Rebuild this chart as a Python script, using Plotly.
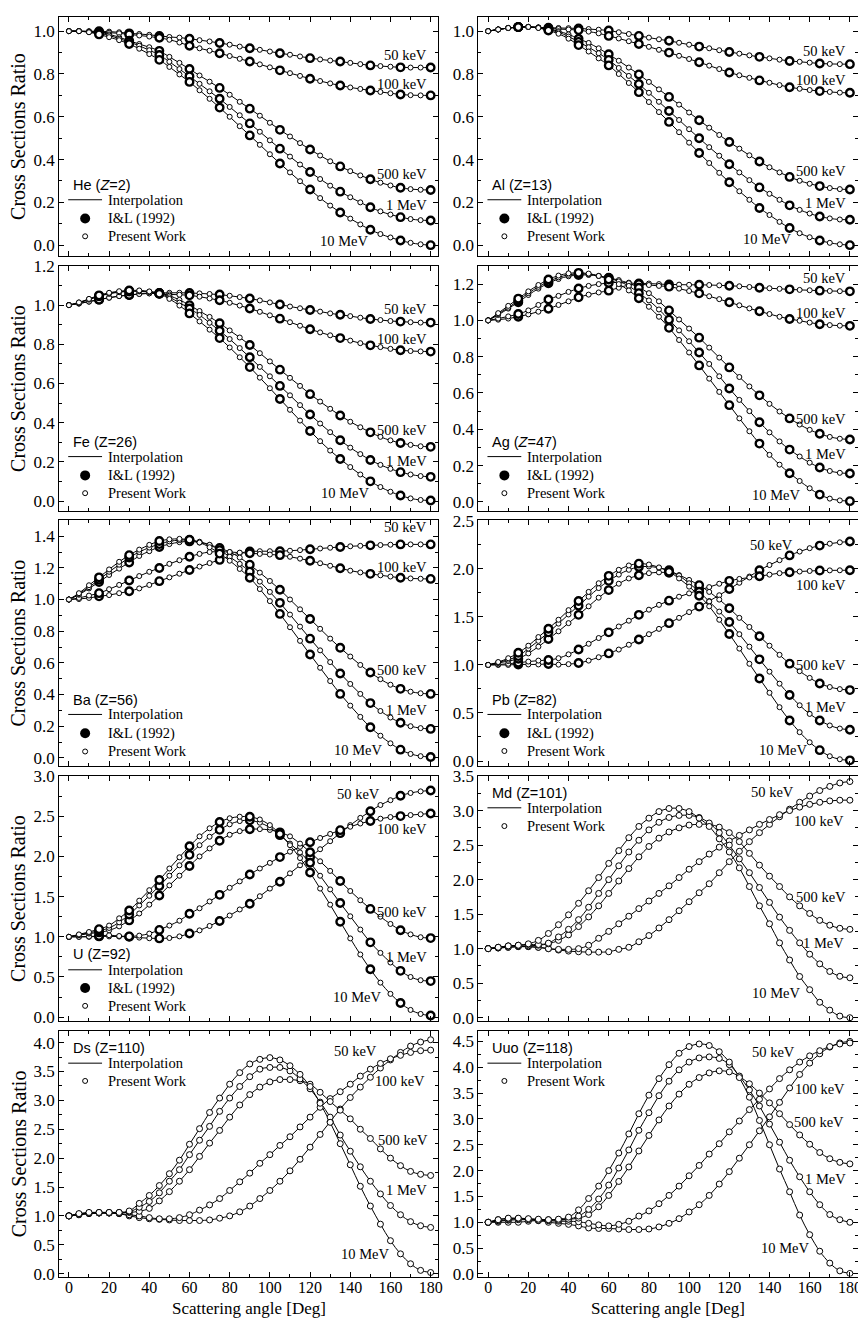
import plotly.graph_objects as go

# The page body has an 8px default margin, so the figure is made 8px smaller
# and every reference pixel position is shifted by that margin.
OFF = 8
WF, HF = 866 - OFF, 1328 - OFF
SERIF = "Liberation Serif, Times New Roman, serif"
SANS = "Liberation Sans, Arial, sans-serif"

# ---------------- data ----------------
ANGLES = list(range(0, 181, 5))
IL_ANGLES = list(range(15, 181, 15))
ENERGIES = ["50 keV", "100 keV", "500 keV", "1 MeV", "10 MeV"]
X_TICKS = list(range(0, 181, 20))

HE_50KEV = [1.0, 1.0, 1.0, 1.0, 0.998, 0.995, 0.99, 0.987, 0.983, 0.978, 0.973, 0.97, 0.965, 0.958, 0.952, 0.945, 0.937, 0.928, 0.92, 0.913, 0.905, 0.897, 0.89, 0.882, 0.874, 0.868, 0.863, 0.858, 0.852, 0.846, 0.84, 0.837, 0.834, 0.831, 0.83, 0.83, 0.83]
HE_100KEV = [1.0, 1.0, 0.998, 0.995, 0.993, 0.99, 0.985, 0.98, 0.975, 0.969, 0.96, 0.947, 0.932, 0.92, 0.909, 0.897, 0.884, 0.871, 0.858, 0.845, 0.831, 0.817, 0.804, 0.791, 0.778, 0.767, 0.756, 0.746, 0.737, 0.73, 0.723, 0.716, 0.71, 0.704, 0.701, 0.7, 0.7]
HE_500KEV = [1.0, 1.0, 0.998, 0.995, 0.985, 0.972, 0.955, 0.94, 0.925, 0.908, 0.88, 0.852, 0.823, 0.793, 0.764, 0.735, 0.703, 0.67, 0.638, 0.605, 0.572, 0.539, 0.508, 0.477, 0.447, 0.419, 0.392, 0.368, 0.346, 0.326, 0.308, 0.292, 0.279, 0.268, 0.262, 0.259, 0.258]
HE_1MEV = [1.0, 1.0, 0.996, 0.99, 0.98, 0.965, 0.95, 0.932, 0.911, 0.889, 0.857, 0.823, 0.789, 0.754, 0.719, 0.684, 0.646, 0.607, 0.569, 0.53, 0.49, 0.451, 0.414, 0.377, 0.342, 0.309, 0.278, 0.25, 0.224, 0.2, 0.177, 0.158, 0.143, 0.131, 0.122, 0.117, 0.115]
HE_10MEV = [1.0, 1.0, 0.995, 0.985, 0.972, 0.958, 0.94, 0.918, 0.893, 0.866, 0.833, 0.798, 0.763, 0.724, 0.684, 0.643, 0.6, 0.556, 0.513, 0.469, 0.425, 0.382, 0.34, 0.299, 0.26, 0.22, 0.185, 0.153, 0.124, 0.097, 0.072, 0.052, 0.036, 0.022, 0.011, 0.004, 0.0]

AL_50KEV = [1.0, 1.008, 1.015, 1.019, 1.02, 1.018, 1.016, 1.015, 1.014, 1.013, 1.01, 1.007, 1.003, 0.995, 0.987, 0.978, 0.97, 0.962, 0.955, 0.946, 0.937, 0.928, 0.92, 0.911, 0.903, 0.895, 0.887, 0.88, 0.873, 0.867, 0.861, 0.857, 0.853, 0.849, 0.847, 0.846, 0.846]
AL_100KEV = [1.0, 1.008, 1.015, 1.019, 1.02, 1.017, 1.013, 1.01, 1.008, 1.005, 0.998, 0.99, 0.978, 0.966, 0.953, 0.94, 0.927, 0.913, 0.9, 0.885, 0.87, 0.855, 0.839, 0.823, 0.807, 0.794, 0.782, 0.77, 0.759, 0.748, 0.738, 0.731, 0.725, 0.72, 0.716, 0.713, 0.712]
AL_500KEV = [1.0, 1.008, 1.015, 1.019, 1.02, 1.017, 1.01, 1.0, 0.985, 0.965, 0.945, 0.92, 0.892, 0.862, 0.83, 0.798, 0.763, 0.728, 0.693, 0.657, 0.62, 0.584, 0.549, 0.515, 0.482, 0.451, 0.42, 0.391, 0.364, 0.34, 0.319, 0.301, 0.287, 0.276, 0.267, 0.262, 0.26]
AL_1MEV = [1.0, 1.008, 1.015, 1.019, 1.02, 1.016, 1.007, 0.995, 0.975, 0.95, 0.925, 0.897, 0.866, 0.828, 0.791, 0.753, 0.712, 0.67, 0.627, 0.585, 0.542, 0.5, 0.458, 0.418, 0.378, 0.34, 0.304, 0.27, 0.24, 0.212, 0.186, 0.165, 0.148, 0.134, 0.125, 0.12, 0.119]
AL_10MEV = [1.0, 1.008, 1.015, 1.019, 1.02, 1.015, 1.003, 0.988, 0.965, 0.935, 0.905, 0.873, 0.84, 0.8, 0.758, 0.715, 0.669, 0.622, 0.576, 0.528, 0.479, 0.431, 0.384, 0.338, 0.294, 0.252, 0.212, 0.174, 0.141, 0.109, 0.08, 0.056, 0.037, 0.022, 0.011, 0.004, 0.0]

FE_50KEV = [1.0, 1.008, 1.018, 1.028, 1.038, 1.046, 1.052, 1.057, 1.06, 1.062, 1.063, 1.063, 1.062, 1.06, 1.057, 1.054, 1.048, 1.041, 1.034, 1.024, 1.014, 1.003, 0.993, 0.984, 0.975, 0.967, 0.958, 0.951, 0.944, 0.936, 0.929, 0.924, 0.919, 0.916, 0.913, 0.911, 0.911]
FE_100KEV = [1.0, 1.008, 1.018, 1.028, 1.038, 1.046, 1.052, 1.057, 1.06, 1.058, 1.055, 1.053, 1.05, 1.043, 1.034, 1.025, 1.012, 0.998, 0.983, 0.966, 0.948, 0.931, 0.913, 0.895, 0.877, 0.861, 0.846, 0.832, 0.819, 0.806, 0.795, 0.786, 0.777, 0.77, 0.766, 0.764, 0.763]
FE_500KEV = [1.0, 1.012, 1.028, 1.045, 1.058, 1.066, 1.07, 1.07, 1.067, 1.062, 1.048, 1.027, 1.0, 0.97, 0.94, 0.908, 0.871, 0.835, 0.797, 0.755, 0.713, 0.671, 0.629, 0.588, 0.546, 0.508, 0.471, 0.437, 0.405, 0.377, 0.351, 0.328, 0.31, 0.297, 0.287, 0.28, 0.277]
FE_1MEV = [1.0, 1.013, 1.03, 1.047, 1.06, 1.068, 1.072, 1.072, 1.068, 1.06, 1.04, 1.013, 0.983, 0.95, 0.91, 0.869, 0.827, 0.781, 0.734, 0.685, 0.637, 0.588, 0.54, 0.49, 0.442, 0.396, 0.352, 0.311, 0.273, 0.24, 0.21, 0.185, 0.165, 0.148, 0.136, 0.128, 0.124]
FE_10MEV = [1.0, 1.014, 1.032, 1.05, 1.063, 1.071, 1.075, 1.075, 1.07, 1.058, 1.032, 0.998, 0.958, 0.917, 0.875, 0.832, 0.784, 0.734, 0.684, 0.63, 0.576, 0.521, 0.466, 0.411, 0.358, 0.306, 0.258, 0.215, 0.174, 0.136, 0.101, 0.072, 0.048, 0.029, 0.014, 0.006, 0.003]

AG_50KEV = [1.0, 1.004, 1.01, 1.02, 1.033, 1.048, 1.064, 1.085, 1.105, 1.127, 1.142, 1.154, 1.164, 1.18, 1.195, 1.203, 1.203, 1.2, 1.198, 1.197, 1.196, 1.196, 1.195, 1.193, 1.191, 1.188, 1.184, 1.18, 1.177, 1.174, 1.171, 1.168, 1.166, 1.164, 1.162, 1.161, 1.16]
AG_100KEV = [1.0, 1.01, 1.022, 1.035, 1.055, 1.085, 1.115, 1.135, 1.157, 1.176, 1.19, 1.2, 1.206, 1.21, 1.208, 1.2, 1.195, 1.19, 1.186, 1.175, 1.162, 1.149, 1.133, 1.117, 1.1, 1.083, 1.066, 1.05, 1.035, 1.02, 1.008, 0.998, 0.988, 0.979, 0.974, 0.971, 0.97]
AG_500KEV = [1.0, 1.03, 1.065, 1.1, 1.14, 1.175, 1.205, 1.228, 1.243, 1.25, 1.25, 1.245, 1.235, 1.222, 1.205, 1.18, 1.15, 1.105, 1.055, 1.005, 0.955, 0.905, 0.85, 0.795, 0.741, 0.688, 0.636, 0.587, 0.54, 0.498, 0.46, 0.426, 0.397, 0.375, 0.358, 0.348, 0.344]
AG_1MEV = [1.0, 1.035, 1.07, 1.11, 1.15, 1.185, 1.213, 1.237, 1.251, 1.256, 1.255, 1.245, 1.233, 1.215, 1.19, 1.15, 1.11, 1.06, 1.004, 0.945, 0.885, 0.823, 0.76, 0.692, 0.625, 0.562, 0.5, 0.439, 0.383, 0.333, 0.288, 0.25, 0.216, 0.189, 0.17, 0.16, 0.156]
AG_10MEV = [1.0, 1.04, 1.08, 1.12, 1.16, 1.195, 1.225, 1.247, 1.259, 1.262, 1.258, 1.245, 1.225, 1.2, 1.165, 1.122, 1.075, 1.02, 0.959, 0.892, 0.823, 0.752, 0.679, 0.606, 0.533, 0.46, 0.389, 0.321, 0.259, 0.205, 0.158, 0.115, 0.075, 0.04, 0.018, 0.008, 0.004]

BA_50KEV = [1.0, 1.003, 1.01, 1.02, 1.028, 1.04, 1.052, 1.07, 1.092, 1.116, 1.14, 1.163, 1.186, 1.208, 1.23, 1.25, 1.275, 1.293, 1.303, 1.305, 1.305, 1.305, 1.308, 1.312, 1.317, 1.322, 1.327, 1.332, 1.336, 1.339, 1.342, 1.344, 1.346, 1.348, 1.348, 1.348, 1.348]
BA_100KEV = [1.0, 1.01, 1.025, 1.04, 1.065, 1.092, 1.12, 1.148, 1.175, 1.199, 1.225, 1.248, 1.27, 1.288, 1.3, 1.302, 1.3, 1.296, 1.292, 1.288, 1.284, 1.28, 1.27, 1.258, 1.245, 1.229, 1.213, 1.197, 1.182, 1.171, 1.162, 1.153, 1.145, 1.137, 1.133, 1.131, 1.13]
BA_500KEV = [1.0, 1.03, 1.07, 1.11, 1.155, 1.195, 1.234, 1.275, 1.305, 1.332, 1.35, 1.362, 1.367, 1.36, 1.345, 1.325, 1.3, 1.265, 1.22, 1.17, 1.117, 1.062, 1.0, 0.938, 0.877, 0.815, 0.753, 0.695, 0.64, 0.587, 0.539, 0.497, 0.462, 0.436, 0.418, 0.408, 0.404]
BA_1MEV = [1.0, 1.035, 1.078, 1.125, 1.175, 1.22, 1.265, 1.3, 1.328, 1.35, 1.367, 1.375, 1.375, 1.365, 1.345, 1.312, 1.27, 1.225, 1.176, 1.113, 1.048, 0.979, 0.905, 0.829, 0.753, 0.679, 0.605, 0.533, 0.467, 0.404, 0.346, 0.296, 0.255, 0.222, 0.2, 0.188, 0.183]
BA_10MEV = [1.0, 1.04, 1.09, 1.14, 1.19, 1.238, 1.28, 1.315, 1.345, 1.369, 1.38, 1.383, 1.377, 1.36, 1.33, 1.29, 1.245, 1.193, 1.137, 1.066, 0.99, 0.909, 0.825, 0.739, 0.653, 0.569, 0.485, 0.404, 0.33, 0.259, 0.193, 0.14, 0.092, 0.052, 0.025, 0.011, 0.006]

PB_50KEV = [1.0, 1.0, 1.0, 1.005, 1.005, 1.005, 1.01, 1.003, 1.008, 1.02, 1.045, 1.08, 1.12, 1.16, 1.21, 1.265, 1.32, 1.375, 1.435, 1.49, 1.55, 1.607, 1.665, 1.725, 1.79, 1.855, 1.92, 1.985, 2.04, 2.09, 2.14, 2.18, 2.215, 2.242, 2.262, 2.276, 2.284]
PB_100KEV = [1.0, 1.005, 1.012, 1.023, 1.035, 1.045, 1.051, 1.07, 1.11, 1.161, 1.22, 1.28, 1.339, 1.4, 1.46, 1.521, 1.575, 1.625, 1.669, 1.71, 1.745, 1.78, 1.81, 1.845, 1.875, 1.895, 1.91, 1.923, 1.94, 1.955, 1.964, 1.972, 1.978, 1.982, 1.984, 1.985, 1.985]
PB_500KEV = [1.0, 1.02, 1.04, 1.065, 1.12, 1.19, 1.27, 1.35, 1.435, 1.521, 1.61, 1.7, 1.779, 1.845, 1.9, 1.933, 1.955, 1.963, 1.96, 1.935, 1.885, 1.83, 1.76, 1.68, 1.59, 1.49, 1.395, 1.298, 1.2, 1.105, 1.013, 0.935, 0.865, 0.807, 0.77, 0.748, 0.738]
PB_1MEV = [1.0, 1.025, 1.055, 1.092, 1.17, 1.25, 1.339, 1.43, 1.525, 1.617, 1.71, 1.8, 1.875, 1.94, 1.99, 2.019, 2.025, 2.01, 1.985, 1.93, 1.85, 1.762, 1.66, 1.555, 1.446, 1.32, 1.19, 1.058, 0.93, 0.805, 0.687, 0.58, 0.49, 0.422, 0.37, 0.338, 0.326]
PB_10MEV = [1.0, 1.03, 1.07, 1.126, 1.2, 1.29, 1.377, 1.47, 1.57, 1.665, 1.76, 1.85, 1.927, 1.99, 2.035, 2.054, 2.045, 2.015, 1.97, 1.9, 1.815, 1.72, 1.61, 1.47, 1.322, 1.17, 1.012, 0.859, 0.71, 0.56, 0.422, 0.3, 0.195, 0.113, 0.05, 0.018, 0.007]

U_50KEV = [1.0, 1.0, 1.0, 1.005, 1.005, 1.003, 1.0, 0.99, 0.982, 0.98, 0.985, 1.005, 1.041, 1.08, 1.135, 1.196, 1.265, 1.34, 1.412, 1.505, 1.6, 1.686, 1.79, 1.89, 1.99, 2.09, 2.19, 2.29, 2.39, 2.48, 2.563, 2.64, 2.7, 2.755, 2.79, 2.81, 2.82]
U_100KEV = [1.0, 1.0, 1.003, 1.01, 1.02, 1.01, 1.005, 1.015, 1.04, 1.086, 1.14, 1.2, 1.286, 1.355, 1.44, 1.522, 1.61, 1.69, 1.776, 1.85, 1.92, 1.992, 2.06, 2.12, 2.176, 2.23, 2.28, 2.327, 2.37, 2.41, 2.441, 2.47, 2.49, 2.502, 2.515, 2.525, 2.535]
U_500KEV = [1.0, 1.02, 1.04, 1.055, 1.08, 1.13, 1.204, 1.29, 1.4, 1.514, 1.64, 1.76, 1.882, 2.0, 2.1, 2.196, 2.27, 2.315, 2.339, 2.34, 2.33, 2.3, 2.25, 2.16, 2.053, 1.94, 1.82, 1.694, 1.57, 1.455, 1.347, 1.25, 1.16, 1.082, 1.03, 0.995, 0.984]
U_1MEV = [1.0, 1.025, 1.05, 1.075, 1.11, 1.18, 1.278, 1.39, 1.51, 1.633, 1.76, 1.89, 2.02, 2.14, 2.245, 2.331, 2.4, 2.44, 2.449, 2.42, 2.36, 2.265, 2.16, 2.05, 1.922, 1.76, 1.59, 1.42, 1.255, 1.09, 0.931, 0.8, 0.68, 0.576, 0.5, 0.46, 0.449]
U_10MEV = [1.0, 1.03, 1.06, 1.095, 1.14, 1.23, 1.327, 1.45, 1.58, 1.706, 1.85, 1.99, 2.127, 2.25, 2.35, 2.429, 2.475, 2.495, 2.494, 2.46, 2.39, 2.28, 2.14, 1.98, 1.8, 1.6, 1.4, 1.188, 0.98, 0.78, 0.596, 0.43, 0.29, 0.176, 0.09, 0.04, 0.02]

MD_50KEV = [1.0, 1.01, 1.02, 1.03, 1.03, 1.02, 1.0, 0.98, 0.965, 0.955, 0.95, 0.95, 0.955, 0.99, 1.02, 1.1, 1.19, 1.3, 1.42, 1.55, 1.68, 1.81, 1.94, 2.1, 2.26, 2.41, 2.55, 2.68, 2.8, 2.91, 3.02, 3.12, 3.21, 3.29, 3.35, 3.4, 3.42]
MD_100KEV = [1.0, 1.01, 1.02, 1.03, 1.03, 1.02, 1.0, 0.99, 0.99, 1.0, 1.05, 1.15, 1.25, 1.36, 1.47, 1.58, 1.69, 1.8, 1.91, 2.03, 2.15, 2.26, 2.37, 2.47, 2.56, 2.64, 2.72, 2.8, 2.87, 2.94, 3.0, 3.05, 3.09, 3.12, 3.14, 3.15, 3.15]
MD_500KEV = [1.0, 1.02, 1.035, 1.04, 1.04, 1.05, 1.07, 1.12, 1.2, 1.32, 1.46, 1.62, 1.8, 1.98, 2.16, 2.33, 2.48, 2.6, 2.69, 2.75, 2.79, 2.8, 2.8, 2.76, 2.68, 2.55, 2.38, 2.21, 2.05, 1.9, 1.75, 1.62, 1.51, 1.41, 1.34, 1.295, 1.28]
MD_1MEV = [1.0, 1.02, 1.04, 1.05, 1.06, 1.06, 1.08, 1.17, 1.28, 1.42, 1.6, 1.8, 2.0, 2.2, 2.4, 2.57, 2.72, 2.83, 2.9, 2.93, 2.93, 2.9, 2.82, 2.68, 2.5, 2.3, 2.1, 1.886, 1.67, 1.457, 1.265, 1.084, 0.92, 0.78, 0.67, 0.6, 0.578]
MD_10MEV = [1.0, 1.02, 1.04, 1.05, 1.07, 1.12, 1.22, 1.347, 1.49, 1.657, 1.839, 2.03, 2.235, 2.42, 2.607, 2.77, 2.89, 2.985, 3.03, 3.03, 2.985, 2.89, 2.77, 2.59, 2.4, 2.17, 1.9, 1.62, 1.36, 1.084, 0.836, 0.597, 0.406, 0.224, 0.11, 0.024, 0.0]

DS_50KEV = [1.0, 1.02, 1.04, 1.05, 1.05, 1.04, 1.0, 0.97, 0.95, 0.94, 0.93, 0.92, 0.92, 0.92, 0.93, 0.96, 1.0, 1.07, 1.17, 1.3, 1.44, 1.6, 1.78, 1.98, 2.19, 2.41, 2.63, 2.85, 3.05, 3.23, 3.4, 3.56, 3.7, 3.83, 3.94, 4.01, 4.05]
DS_100KEV = [1.0, 1.02, 1.04, 1.05, 1.05, 1.04, 1.02, 1.0, 0.97, 0.95, 0.95, 0.97, 1.02, 1.1, 1.19, 1.3, 1.44, 1.59, 1.74, 1.91, 2.06, 2.22, 2.37, 2.54, 2.71, 2.88, 3.03, 3.15, 3.28, 3.42, 3.54, 3.64, 3.72, 3.78, 3.83, 3.86, 3.87]
DS_500KEV = [1.0, 1.03, 1.05, 1.05, 1.05, 1.05, 1.06, 1.08, 1.13, 1.26, 1.42, 1.6, 1.8, 2.03, 2.26, 2.48, 2.71, 2.92, 3.1, 3.23, 3.32, 3.36, 3.36, 3.34, 3.28, 3.14, 2.98, 2.83, 2.68, 2.5, 2.34, 2.16, 2.0, 1.87, 1.77, 1.72, 1.7]
DS_1MEV = [1.0, 1.03, 1.05, 1.06, 1.06, 1.06, 1.07, 1.15, 1.25, 1.4, 1.6, 1.8, 2.06, 2.31, 2.55, 2.81, 3.04, 3.24, 3.41, 3.54, 3.57, 3.57, 3.51, 3.37, 3.2, 2.97, 2.71, 2.4, 2.12, 1.85, 1.6, 1.38, 1.18, 1.02, 0.9, 0.83, 0.8]
DS_10MEV = [1.0, 1.04, 1.06, 1.06, 1.06, 1.06, 1.085, 1.216, 1.353, 1.525, 1.73, 1.965, 2.24, 2.51, 2.79, 3.04, 3.28, 3.48, 3.63, 3.71, 3.74, 3.7, 3.6, 3.45, 3.24, 2.95, 2.62, 2.25, 1.885, 1.513, 1.171, 0.857, 0.571, 0.343, 0.171, 0.057, 0.02]

UUO_50KEV = [1.0, 1.0, 1.0, 1.0, 1.02, 1.03, 1.0, 0.98, 0.96, 0.93, 0.89, 0.88, 0.88, 0.87, 0.86, 0.86, 0.87, 0.91, 0.98, 1.07, 1.2, 1.34, 1.52, 1.74, 1.98, 2.24, 2.5, 2.77, 3.04, 3.32, 3.6, 3.86, 4.08, 4.26, 4.39, 4.47, 4.5]
UUO_100KEV = [1.0, 1.02, 1.04, 1.05, 1.05, 1.04, 1.03, 1.02, 1.02, 1.01, 0.98, 0.95, 0.93, 0.96, 1.02, 1.12, 1.22, 1.36, 1.52, 1.7, 1.9, 2.1, 2.32, 2.52, 2.75, 2.96, 3.18, 3.38, 3.58, 3.78, 3.95, 4.1, 4.22, 4.32, 4.4, 4.45, 4.47]
UUO_500KEV = [1.0, 1.03, 1.05, 1.07, 1.06, 1.05, 1.05, 1.05, 1.06, 1.08, 1.15, 1.3, 1.52, 1.79, 2.07, 2.38, 2.68, 2.98, 3.25, 3.48, 3.67, 3.8, 3.89, 3.93, 3.91, 3.82, 3.68, 3.5, 3.31, 3.1, 2.89, 2.69, 2.51, 2.35, 2.23, 2.16, 2.13]
UUO_1MEV = [1.0, 1.05, 1.07, 1.07, 1.05, 1.04, 1.04, 1.04, 1.06, 1.12, 1.25, 1.45, 1.72, 2.05, 2.4, 2.78, 3.12, 3.45, 3.73, 3.95, 4.1, 4.18, 4.2, 4.17, 4.05, 3.83, 3.56, 3.25, 2.9, 2.55, 2.2, 1.88, 1.59, 1.34, 1.15, 1.05, 1.0]
UUO_10MEV = [1.0, 1.05, 1.08, 1.08, 1.07, 1.06, 1.05, 1.06, 1.1, 1.24, 1.46, 1.7, 2.0, 2.34, 2.71, 3.1, 3.46, 3.78, 4.05, 4.27, 4.4, 4.45, 4.42, 4.3, 4.1, 3.8, 3.42, 2.97, 2.5, 2.03, 1.59, 1.14, 0.76, 0.44, 0.21, 0.06, 0.01]

# ---------------- panel layout (positions / styles) ----------------
PANELS = [
    dict(title="He (<i>Z</i>=2)", col=0, row=0, il=True, ymax=1.1, dtick=0.2,
         curves=[HE_50KEV, HE_100KEV, HE_500KEV, HE_1MEV, HE_10MEV],
         labels=[(179, 0.888, "right"), (179, 0.754, "right"), (179, 0.334, "right"), (179, 0.186, "right"), (137, 0.02, "center")],
         leg=(178, 193, 212, 230)),
    dict(title="Al (Z=13)", col=1, row=0, il=True, ymax=1.1, dtick=0.2,
         curves=[AL_50KEV, AL_100KEV, AL_500KEV, AL_1MEV, AL_10MEV],
         labels=[(179, 0.907, "right"), (179, 0.773, "right"), (179, 0.347, "right"), (179, 0.196, "right"), (139, 0.031, "center")],
         leg=(178, 193, 212, 230)),
    dict(title="Fe (Z=26)", col=0, row=1, il=True, ymax=1.2, dtick=0.2,
         curves=[FE_50KEV, FE_100KEV, FE_500KEV, FE_1MEV, FE_10MEV],
         labels=[(179, 0.978, "right"), (179, 0.827, "right"), (179, 0.365, "right"), (179, 0.207, "right"), (137.4, 0.039, "center")],
         leg=(438, 453, 472, 490)),
    dict(title="Ag (<i>Z</i>=47)", col=1, row=1, il=True, ymax=1.3, dtick=0.2,
         curves=[AG_50KEV, AG_100KEV, AG_500KEV, AG_1MEV, AG_10MEV],
         labels=[(179, 1.231, "right"), (179, 1.04, "right"), (179, 0.457, "right"), (179, 0.263, "right"), (143.4, 0.04, "center")],
         leg=(438, 453, 472, 490)),
    dict(title="Ba (Z=56)", col=0, row=2, il=True, ymax=1.5, dtick=0.2,
         curves=[BA_50KEV, BA_100KEV, BA_500KEV, BA_1MEV, BA_10MEV],
         labels=[(179, 1.456, "right"), (179, 1.207, "right"), (179, 0.556, "right"), (179, 0.301, "right"), (144, 0.052, "center")],
         leg=(699, 714, 733, 751.5)),
    dict(title="Pb (<i>Z</i>=82)", col=1, row=2, il=True, ymax=2.505, dtick=0.5,
         curves=[PB_50KEV, PB_100KEV, PB_500KEV, PB_1MEV, PB_10MEV],
         labels=[(141, 2.249, "center"), (179, 1.837, "right"), (179, 0.996, "right"), (179, 0.56, "right"), (146.7, 0.113, "center")],
         leg=(699, 714, 733, 751)),
    dict(title="U (Z=92)", col=0, row=3, il=True, ymax=3.005, dtick=0.5,
         curves=[U_50KEV, U_100KEV, U_500KEV, U_1MEV, U_10MEV],
         labels=[(144, 2.776, "center"), (179, 2.339, "right"), (179, 1.306, "right"), (179, 0.747, "right"), (143.2, 0.257, "center")],
         leg=(957, 972.5, 991, 1009)),
    dict(title="Md (Z=101)", col=1, row=3, il=False, ymax=3.505, dtick=0.5,
         curves=[MD_50KEV, MD_100KEV, MD_500KEV, MD_1MEV, MD_10MEV],
         labels=[(141.7, 3.271, "center"), (178, 2.851, "right"), (179, 1.753, "right"), (178, 1.084, "right"), (143.4, 0.358, "center")],
         leg=(794, 808.5, None, 827)),
    dict(title="Ds (Z=110)", col=0, row=4, il=False, ymax=4.2, dtick=0.5,
         curves=[DS_50KEV, DS_100KEV, DS_500KEV, DS_1MEV, DS_10MEV],
         labels=[(142.7, 3.85, "center"), (164.6, 3.34, "center"), (179.5, 2.31, "right"), (179, 1.456, "right"), (147.3, 0.343, "center")],
         leg=(1052, 1067, None, 1085)),
    dict(title="Uuo (Z=118)", col=1, row=4, il=False, ymax=4.7, dtick=0.5,
         curves=[UUO_50KEV, UUO_100KEV, UUO_500KEV, UUO_1MEV, UUO_10MEV],
         labels=[(142, 4.29, "center"), (178.7, 3.575, "right"), (178, 2.94, "right"), (179, 1.83, "right"), (147.5, 0.508, "center")],
         leg=(1052, 1067, None, 1085)),
]

# frame positions in reference-page pixels
COL_X = [(59.5, 440.3), (480.7, 861.5)]
ROW_Y = [(0.7, 249.8), (260, 508), (517.5, 766), (776, 1024.5), (1034.5, 1283)]
X_RANGE = [-4.8, 183.8]
YMIN = -0.05


def px(x):
    return (x - OFF) / WF


def py(y):
    return 1 - (y - OFF) / HF


fig = go.Figure()
layout_axes = {}
annotations = []
shapes = []

for i, p in enumerate(PANELS):
    n = i + 1
    sfx = "" if n == 1 else str(n)
    xa, ya = "x" + sfx, "y" + sfx
    x0, x1 = COL_X[p["col"]]
    t, b = ROW_Y[p["row"]]
    ymax = p["ymax"]
    if t < OFF:  # part above the visible page: trim the range, keep the scale
        scale = (b - t) / (ymax - YMIN)
        ymax = ymax - (OFF - t) / scale
        t = OFF
    axis_common = dict(
        ticks="inside", ticklen=5, tickwidth=1, tickcolor="black",
        showline=True, linecolor="black", linewidth=1, mirror="allticks",
        showgrid=False, zeroline=False, fixedrange=True,
    )
    layout_axes["xaxis" + sfx] = dict(
        domain=[px(x0), px(x1)], range=X_RANGE, anchor=ya,
        tickmode="array", tickvals=X_TICKS, ticktext=[str(v) for v in X_TICKS],
        minor=dict(ticks="inside", ticklen=3, tickwidth=1, tickcolor="black", dtick=10, tick0=0),
        showticklabels=(p["row"] == 4), ticklabelstandoff=-4,
        tickfont=dict(family=SERIF, size=16, color="black"),
        **axis_common)
    layout_axes["yaxis" + sfx] = dict(
        domain=[py(b), py(t)], range=[YMIN, ymax], anchor=xa,
        tickmode="linear", tick0=0, dtick=p["dtick"], tickformat=".1f",
        minor=dict(ticks="inside", ticklen=3, tickwidth=1, tickcolor="black", dtick=p["dtick"] / 2, tick0=0),
        tickfont=dict(family=SERIF, size=17, color="black"),
        **axis_common)

    small = 5 if p["il"] else 6
    for curve in p["curves"]:
        fig.add_trace(go.Scatter(x=ANGLES, y=curve, mode="lines",
                                 line=dict(color="black", width=1, shape="spline", smoothing=1),
                                 xaxis=xa, yaxis=ya, showlegend=False, hoverinfo="skip"))
    for curve in p["curves"]:
        fig.add_trace(go.Scatter(x=ANGLES, y=curve, mode="markers",
                                 marker=dict(symbol="circle", size=small, color="white",
                                             line=dict(color="black", width=1)),
                                 xaxis=xa, yaxis=ya, showlegend=False, hoverinfo="skip"))
    if p["il"]:
        for curve in p["curves"]:
            il_y = [curve[ANGLES.index(a)] for a in IL_ANGLES]
            fig.add_trace(go.Scatter(x=IL_ANGLES, y=il_y, mode="markers",
                                     marker=dict(symbol="circle", size=7.5, color="white",
                                                 line=dict(color="black", width=2.4)),
                                     xaxis=xa, yaxis=ya, showlegend=False, hoverinfo="skip"))

    # energy labels
    for name, (lx, ly, anc) in zip(ENERGIES, p["labels"]):
        annotations.append(dict(x=lx, y=ly, xref=xa, yref=ya, text=name, showarrow=False,
                                xanchor=anc, yanchor="middle",
                                font=dict(family=SERIF, size=14.5, color="black")))

    # panel legend
    ty, iy, ly_il, ppy = p["leg"]
    annotations.append(dict(x=px(x0 + 11.5), y=py(ty), xref="paper", yref="paper",
                            text=p["title"], showarrow=False, xanchor="left", yanchor="middle",
                            font=dict(family=SANS, size=14.5, color="black")))
    shapes.append(dict(type="line", xref="paper", yref="paper",
                       x0=px(x0 + 9), x1=px(x0 + 43), y0=py(iy), y1=py(iy),
                       line=dict(color="black", width=1)))
    items = [("Interpolation", iy)]
    if ly_il is not None:
        items.append(("I&amp;L (1992)", ly_il))
    items.append(("Present Work", ppy))
    for txt, yy in items:
        annotations.append(dict(x=px(x0 + 47), y=py(yy), xref="paper", yref="paper",
                                text=txt, showarrow=False, xanchor="left", yanchor="middle",
                                font=dict(family=SERIF, size=14.5, color="black")))
    if ly_il is not None:
        fig.add_trace(go.Scatter(x=[x0 + 26 - OFF], y=[ly_il - OFF], mode="markers",
                                 marker=dict(symbol="circle", size=10, color="black",
                                             line=dict(color="black", width=0)),
                                 xaxis="x11", yaxis="y11", showlegend=False, hoverinfo="skip"))
    fig.add_trace(go.Scatter(x=[x0 + 26 - OFF], y=[ppy - OFF], mode="markers",
                             marker=dict(symbol="circle", size=5, color="white",
                                         line=dict(color="black", width=1)),
                             xaxis="x11", yaxis="y11", showlegend=False, hoverinfo="skip"))

    # axis titles
    if p["col"] == 0:
        annotations.append(dict(x=px(18.5), y=py((t + b) / 2), xref="paper", yref="paper",
                                text="Cross Sections Ratio", textangle=-90, showarrow=False,
                                xanchor="center", yanchor="middle",
                                font=dict(family=SERIF, size=20, color="black")))
    if p["row"] == 4:
        annotations.append(dict(x=px((x0 + x1) / 2), y=py(1315), xref="paper", yref="paper",
                                text="Scattering angle [Deg]", showarrow=False,
                                xanchor="center", yanchor="middle",
                                font=dict(family=SERIF, size=17, color="black")))

layout_axes["xaxis11"] = dict(domain=[0, 1], range=[0, WF], visible=False, fixedrange=True, anchor="y11")
layout_axes["yaxis11"] = dict(domain=[0, 1], range=[HF, 0], visible=False, fixedrange=True, anchor="x11")

fig.update_layout(
    width=WF, height=HF, margin=dict(l=0, r=0, t=0, b=0),
    paper_bgcolor="white", plot_bgcolor="rgba(0,0,0,0)",
    showlegend=False, annotations=annotations, shapes=shapes,
    font=dict(family=SERIF, color="black"),
    **layout_axes,
)

fig.write_html("out.html")
